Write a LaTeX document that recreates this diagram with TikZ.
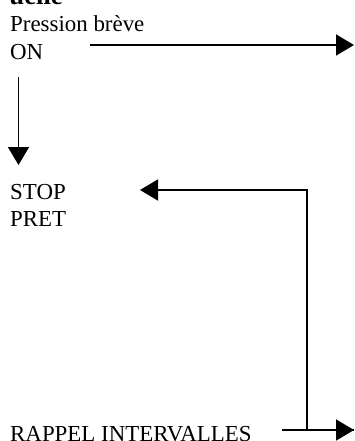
\documentclass[tikz,border=0pt]{standalone}
\usepackage{fontspec}
\setmainfont{Liberation Serif}
\usetikzlibrary{arrows.meta}
\begin{document}
\begin{tikzpicture}[x=1pt,y=-1pt,
  lbl/.style={anchor=base west,inner sep=0pt,font=\fontsize{22.9}{27}\selectfont},
  ttl/.style={anchor=base east,inner sep=0pt,font=\fontsize{26.7}{30}\selectfont\bfseries},
  conn/.style={line width=1.6pt,-{Triangle[length=18pt,width=21pt]}},
  seg/.style={line width=1.6pt}]
\clip (0,0) rectangle (354,441);
\useasboundingbox (0,0) rectangle (354,441);
\node[ttl] (title) at (63,4.5) {uelle};
\node[lbl] (press) at (10,31.7) {Pression brève};
\node[lbl] (on) at (10,60) {ON};
\node[lbl] (stop) at (10,199) {STOP};
\node[lbl] (pret) at (10,226) {PRET};
\node[lbl] (rappel) at (10,441) {RAPPEL INTERVALLES};
\coordinate (onr) at (90,45);
\coordinate (onrend) at (354,45);
\coordinate (ond) at (18.5,77);
\coordinate (stopu) at (18.5,165);
\coordinate (stopr) at (140,190);
\coordinate (corner) at (307,190);
\coordinate (junc) at (307,430);
\coordinate (rapr) at (282,430);
\coordinate (rapend) at (354,430);
\draw[conn] (onr) -- (onrend);
\draw[conn] (ond) -- (stopu);
\draw[seg] (rapr) -- (rapend |- rapr);
\draw[conn] (rapr) -- (rapend);
\draw[conn,line join=miter] (junc) -- (corner) -- (stopr);
\end{tikzpicture}
\end{document}
